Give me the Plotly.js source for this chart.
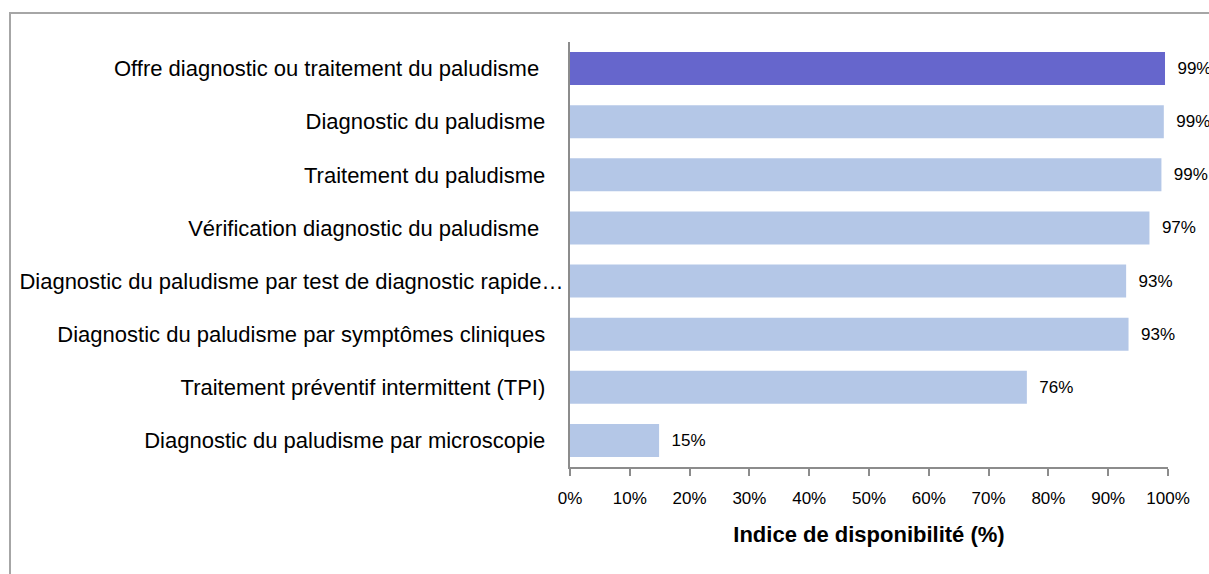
<!DOCTYPE html>
<html>
<head>
<meta charset="utf-8">
<script src="https://cdn.plot.ly/plotly-3.0.1.min.js"></script>
<style>
  html, body { margin: 0; padding: 0; background: #fff; }
  #wrap { position: relative; width: 1209px; height: 574px; overflow: hidden; }
  #chart { position: absolute; left: 0; top: 0; width: 1209px; height: 574px; }
  #frame { position: absolute; left: 9px; top: 12px; width: 1400px; height: 800px;
           border-left: 2px solid #a6a6a6; border-top: 2px solid #a6a6a6; pointer-events: none; }
</style>
</head>
<body>
<div id="wrap">
  <div id="chart"></div>
  <div id="frame"></div>
</div>
<script>
// ---- Data ----
const categories = [
  "Offre diagnostic ou traitement du paludisme",
  "Diagnostic du paludisme",
  "Traitement du paludisme",
  "Vérification diagnostic du paludisme",
  "Diagnostic du paludisme par test de diagnostic rapide…",
  "Diagnostic du paludisme par symptômes cliniques",
  "Traitement préventif intermittent (TPI)",
  "Diagnostic du paludisme par microscopie"
];
const values = [99.5, 99.3, 98.9, 96.9, 93.0, 93.4, 76.4, 14.9];
const valueLabels = ["99%", "99%", "99%", "97%", "93%", "93%", "76%", "15%"];
const xTickValues = [0, 10, 20, 30, 40, 50, 60, 70, 80, 90, 100];
const xTickLabels = ["0%", "10%", "20%", "30%", "40%", "50%", "60%", "70%", "80%", "90%", "100%"];
const axisTitle = "Indice de disponibilité (%)";

// ---- Styling ----
const highlightIndex = 0;
const colHighlight = "#6666CC";
const colNormal = "#B4C7E7";
const NB = "\u00a0";
// right-padding of each category label (in non-breaking spaces) to mimic the original alignment
const labelPad = [4, 3, 3, 4, 0, 3, 3, 3];
const tickText = categories.map((c, i) => c + NB.repeat(labelPad[i]));
const font = "Liberation Sans, Arial, sans-serif";

const trace = {
  type: "bar",
  orientation: "h",
  y: categories,
  x: values,
  marker: { color: categories.map((c, i) => i === highlightIndex ? colHighlight : colNormal) },
  text: valueLabels.map(t => NB + NB + t),
  textposition: "outside",
  cliponaxis: false,
  constraintext: "none",
  textfont: { family: font, size: 17, color: "#000" },
  hoverinfo: "none"
};

const layout = {
  width: 1209,
  height: 574,
  margin: { l: 570, r: 41, t: 42, b: 107 },
  paper_bgcolor: "rgba(0,0,0,0)",
  plot_bgcolor: "#fff",
  showlegend: false,
  bargap: 0.38,
  font: { family: font, color: "#000" },
  xaxis: {
    range: [0, 100],
    tickvals: xTickValues,
    ticktext: xTickLabels,
    ticks: "outside",
    ticklen: 7,
    tickwidth: 2,
    tickcolor: "#8c8c8c",
    showline: true,
    linecolor: "#8c8c8c",
    linewidth: 2,
    showgrid: false,
    zeroline: false,
    ticklabelstandoff: 8,
    tickfont: { family: font, size: 17, color: "#000" },
    title: { text: "<b>" + axisTitle + "</b>", font: { family: font, size: 22, color: "#000" }, standoff: 19 },
    fixedrange: true
  },
  yaxis: {
    type: "category",
    autorange: "reversed",
    tickvals: categories,
    ticktext: tickText,
    ticks: "",
    showline: true,
    linecolor: "#8c8c8c",
    linewidth: 2,
    showgrid: false,
    zeroline: false,
    ticklabelstandoff: 0,
    tickfont: { family: font, size: 22, color: "#000" },
    fixedrange: true
  }
};

Plotly.newPlot("chart", [trace], layout, { displayModeBar: false, staticPlot: true });
</script>
</body>
</html>
